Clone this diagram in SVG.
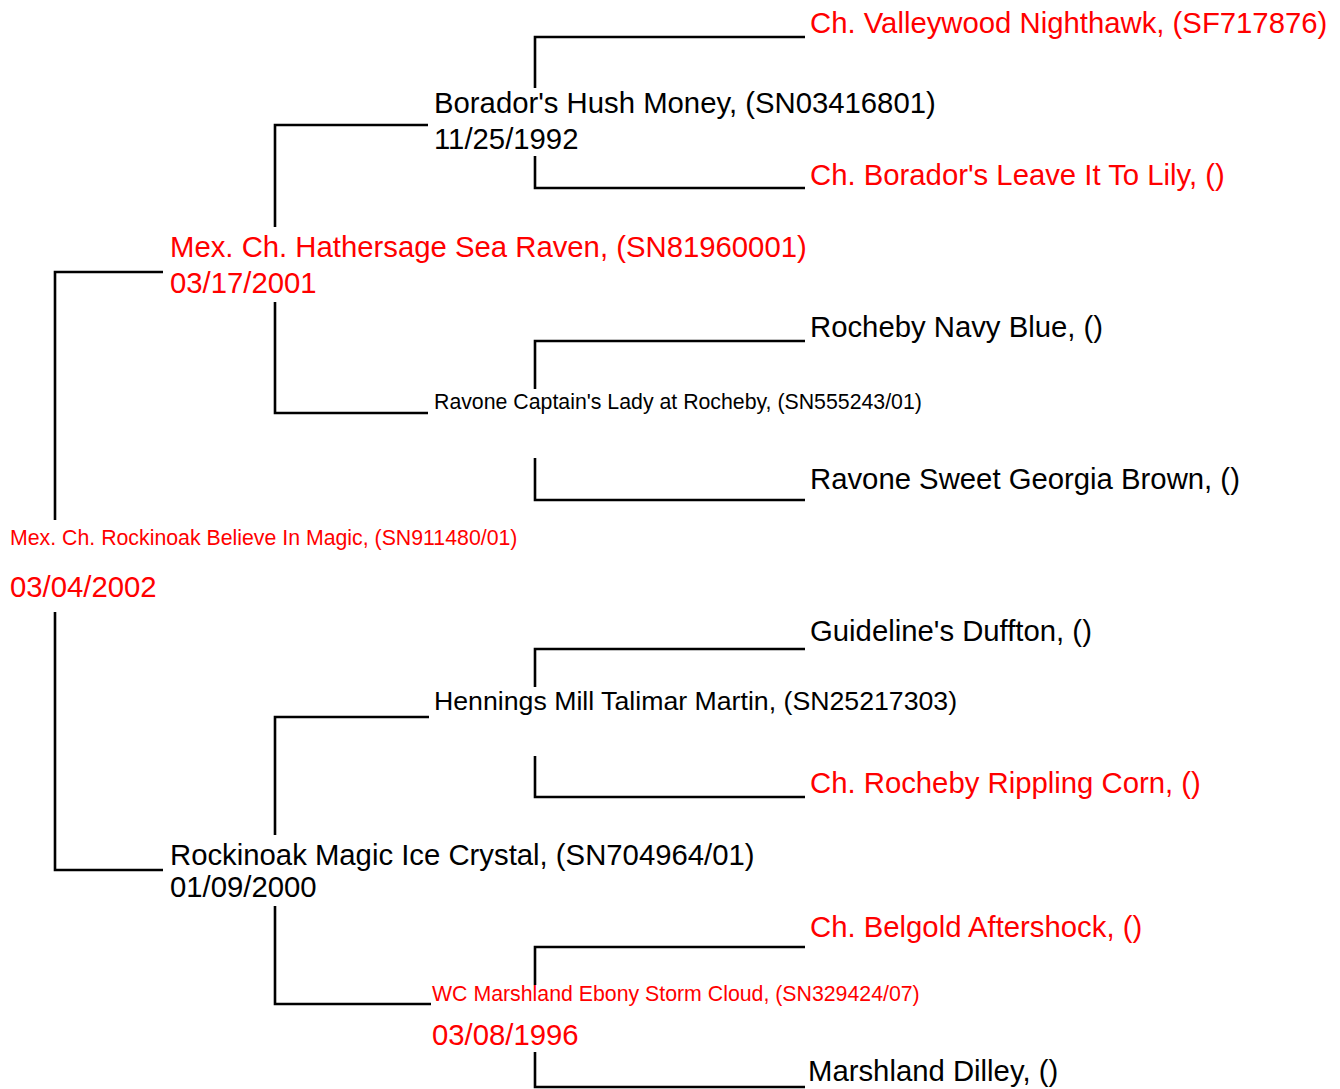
<svg xmlns="http://www.w3.org/2000/svg" width="1340" height="1089" viewBox="0 0 1340 1089">
<style>
text{font-family:"Liberation Sans",Arial,sans-serif;font-size:29.3px;fill:#000}
.r{fill:#ff0000}
.s{font-size:21.3px}
.m{font-size:26.7px}
#connectors path{fill:none;stroke:#000;stroke-width:2.6}
</style>
<rect width="1340" height="1089" fill="#fff"/>
<g id="connectors">
<path d="M163 272H55V520"/>
<path d="M55 612V870H163"/>
<path d="M428 125H275V227"/>
<path d="M275 302V413H428"/>
<path d="M429 717H275V835"/>
<path d="M275 906V1004H431"/>
<path d="M535 88V37H805"/>
<path d="M535 156V188H805"/>
<path d="M535 389V341H805"/>
<path d="M535 458V500H805"/>
<path d="M535 687V649H805"/>
<path d="M535 756V797H805"/>
<path d="M535 985V947H805"/>
<path d="M535 1052V1087H805"/>
</g>
<g id="n1"><text class="r s" x="10" y="545">Mex. Ch. Rockinoak Believe In Magic, (SN911480/01)</text><text class="r" x="10" y="597">03/04/2002</text></g>
<g id="n2"><text class="r" x="170" y="257">Mex. Ch. Hathersage Sea Raven, (SN81960001)</text><text class="r" x="170" y="293">03/17/2001</text></g>
<g id="n3"><text x="170" y="865">Rockinoak Magic Ice Crystal, (SN704964/01)</text><text x="170" y="897">01/09/2000</text></g>
<g id="n4"><text x="434" y="113">Borador's Hush Money, (SN03416801)</text><text x="434" y="149">11/25/1992</text></g>
<g id="n5"><text class="s" x="434" y="409">Ravone Captain's Lady at Rocheby, (SN555243/01)</text></g>
<g id="n6"><text class="m" x="434" y="710">Hennings Mill Talimar Martin, (SN25217303)</text></g>
<g id="n7"><text class="r s" x="432" y="1001">WC Marshland Ebony Storm Cloud, (SN329424/07)</text><text class="r" x="432" y="1045">03/08/1996</text></g>
<g id="n8"><text class="r" x="810" y="33">Ch. Valleywood Nighthawk, (SF717876)</text></g>
<g id="n9"><text class="r" x="810" y="185">Ch. Borador's Leave It To Lily, ()</text></g>
<g id="n10"><text x="810" y="337">Rocheby Navy Blue, ()</text></g>
<g id="n11"><text x="810" y="489">Ravone Sweet Georgia Brown, ()</text></g>
<g id="n12"><text x="810" y="641">Guideline's Duffton, ()</text></g>
<g id="n13"><text class="r" x="810" y="793">Ch. Rocheby Rippling Corn, ()</text></g>
<g id="n14"><text class="r" x="810" y="937">Ch. Belgold Aftershock, ()</text></g>
<g id="n15"><text x="808" y="1081">Marshland Dilley, ()</text></g>
</svg>
